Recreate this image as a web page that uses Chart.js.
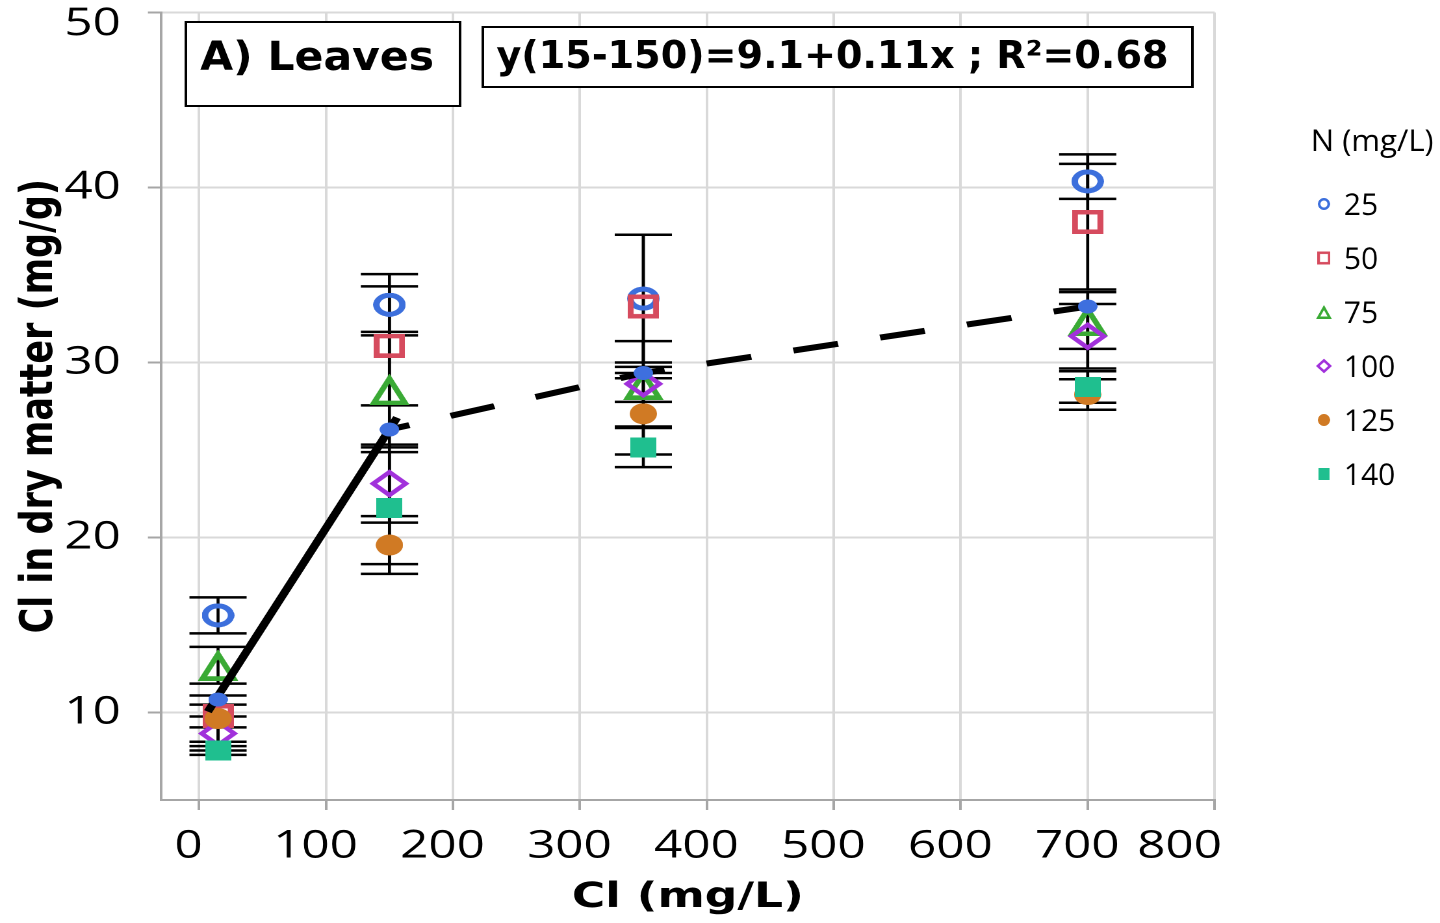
<!DOCTYPE html>
<html>
<head>
<meta charset="utf-8">
<script src="https://cdn.jsdelivr.net/npm/chart.js"></script>
<style>
  html, body { margin: 0; padding: 0; background: #fff; overflow: hidden; }
  #chart { display: block; }
</style>
</head>
<body>
<canvas id="chart" width="1108" height="923" style="width:1440px;height:923px"></canvas>
<script>
// Cl in irrigation water (mg/L)
const clLevels = [15, 150, 350, 700];
// N levels (legend)
const nLevels = ['25', '50', '75', '100', '125', '140'];

// Cl in dry matter (mg/g) per N level, with the half length of each error bar
const cl25 = [15.55, 33.3, 33.65, 40.35];
const err25 = [1.03, 1.75, 3.65, 1.0];
const cl50 = [9.8, 30.95, 33.2, 38.03];
const err50 = [0.65, 3.4, 4.1, 3.86];
const cl75 = [12.7, 28.45, 28.75, 32.4];
const err75 = [1.05, 3.3, 1.0, 1.62];
const cl100 = [8.8, 23.08, 28.78, 31.5];
const err100 = [0.97, 2.23, 2.44, 1.84];
const cl125 = [9.65, 19.57, 27.07, 28.17];
const err125 = [1.32, 1.65, 2.33, 0.87];
const cl140 = [7.83, 21.68, 25.14, 28.6];
const err140 = [0.25, 3.2, 1.12, 0.9];

// mean of the six N levels at each Cl level
const meanCl = [10.74, 26.17, 29.4, 33.2];
// regression line y(15-150), end points as drawn
const fitX = [7, 156];
const fitY = [10.05, 26.85];

const xTickVals = [0, 100, 200, 300, 400, 500, 600, 700, 800];
const yTickVals = [10, 20, 30, 40, 50];

// the picture is stretched sideways, so draw narrow and let css widen it
const STRETCH = 1.3;

const colors = ['#3c6fdc', '#d64b5e', '#3aaa35', '#a131db', '#d07a24', '#1fbf8f'];
const meanColor = '#3e6fde';

function makeMark(kind, w, h, lw, color) {
  const S = 3;
  const c = document.createElement('canvas');
  c.width = w * S;
  c.height = h * S;
  const g = c.getContext('2d');
  g.scale(S, S);
  g.strokeStyle = color;
  g.fillStyle = color;
  g.lineWidth = lw;
  const m = lw / 2;
  g.beginPath();
  if (kind === 'ring') g.ellipse(w / 2, h / 2, w / 2 - m, h / 2 - m, 0, 0, Math.PI * 2);
  else if (kind === 'dot') g.ellipse(w / 2, h / 2, w / 2, h / 2, 0, 0, Math.PI * 2);
  else if (kind === 'box') g.rect(m, m, w - lw, h - lw);
  else if (kind === 'block') g.rect(0, 0, w, h);
  else if (kind === 'tri') {
    g.moveTo(w / 2, lw);
    g.lineTo(w - lw * 0.9, h - m);
    g.lineTo(lw * 0.9, h - m);
    g.closePath();
  } else if (kind === 'dia') {
    const d = lw * 0.75;
    g.moveTo(w / 2, d);
    g.lineTo(w - d, h / 2);
    g.lineTo(w / 2, h - d);
    g.lineTo(d, h / 2);
    g.closePath();
  }
  if (kind === 'dot' || kind === 'block') g.fill(); else g.stroke();
  const img = new Image();
  img.width = w;
  img.height = h;
  const ready = new Promise(res => { img.onload = res; img.onerror = res; });
  img.src = c.toDataURL();
  return { img, ready };
}

// plot markers (sizes in the narrow canvas)
const marks = [
  makeMark('ring', 25, 24, 5, colors[0]),
  makeMark('box', 24, 24, 4.5, colors[1]),
  makeMark('tri', 32, 31, 4.5, colors[2]),
  makeMark('dia', 31, 29, 4, colors[3]),
  makeMark('dot', 21, 21, 0, colors[4]),
  makeMark('block', 20, 20, 0, colors[5])
];
const meanMark = makeMark('dot', 15, 14, 0, meanColor);
// legend markers (sizes as seen, squeezed when drawn)
const legMarks = [
  makeMark('ring', 12, 12, 2.5, colors[0]),
  makeMark('box', 13, 13, 2.5, colors[1]),
  makeMark('tri', 16, 14, 2.5, colors[2]),
  makeMark('dia', 16, 15, 2.5, colors[3]),
  makeMark('dot', 12, 12, 0, colors[4]),
  makeMark('block', 11, 12, 0, colors[5])
];

const seriesVals = [cl25, cl50, cl75, cl100, cl125, cl140];
const seriesErrs = [err25, err50, err75, err100, err125, err140];

const pt = (xs, ys) => xs.map((x, i) => ({ x, y: ys[i] }));

// error bars under the markers
const errorBars = {
  id: 'errorBars',
  beforeDatasetsDraw(chart) {
    const { ctx, scales: { x, y } } = chart;
    ctx.save();
    ctx.strokeStyle = '#000';
    chart.data.datasets.forEach(ds => {
      if (!ds.errors) return;
      ds.data.forEach((p, i) => {
        const px = x.getPixelForValue(p.x);
        const top = y.getPixelForValue(p.y + ds.errors[i]);
        const bot = y.getPixelForValue(p.y - ds.errors[i]);
        ctx.lineWidth = 2.3;
        ctx.beginPath();
        ctx.moveTo(px, top);
        ctx.lineTo(px, bot);
        ctx.stroke();
        ctx.lineWidth = 2.5;
        ctx.beginPath();
        ctx.moveTo(px - 22, top);
        ctx.lineTo(px + 22, top);
        ctx.moveTo(px - 22, bot);
        ctx.lineTo(px + 22, bot);
        ctx.stroke();
      });
    });
    ctx.restore();
  }
};

function fitText(ctx, text, x, y, width, font) {
  ctx.save();
  ctx.font = font;
  ctx.textAlign = 'left';
  ctx.textBaseline = 'alphabetic';
  const k = width / ctx.measureText(text).width;
  ctx.translate(x, y);
  ctx.scale(k, 1);
  ctx.fillText(text, 0, 0);
  ctx.restore();
}

// text boxes, the top y label and the legend
const decor = {
  id: 'decor',
  afterDraw(chart) {
    const ctx = chart.ctx;
    ctx.save();
    ctx.fillStyle = '#fff';
    ctx.strokeStyle = '#000';
    ctx.lineWidth = 2;
    ctx.fillRect(143, 22, 211, 84);
    ctx.strokeRect(143, 22, 211, 84);
    ctx.fillRect(371.5, 27, 546, 60);
    ctx.strokeRect(371.5, 27, 546, 60);
    ctx.fillStyle = '#000';
    fitText(ctx, 'A) Leaves', 154, 70, 180, 'bold 40px "DejaVu Sans"');
    fitText(ctx, 'y(15-150)=9.1+0.11x ; R\u00b2=0.68', 382, 68, 517, 'bold 38px "DejaVu Sans"');

    ctx.font = '38px "Open Sans"';
    ctx.textAlign = 'right';
    ctx.textBaseline = 'alphabetic';
    ctx.fillText(String(yTickVals[yTickVals.length - 1]), 93, 35);

    fitText(ctx, 'N (mg/L)', 1008.5, 151, 94.6, '30px "Open Sans"');
    nLevels.forEach((lab, k) => {
      const cy = 204 + 54 * k;
      const im = legMarks[k].img;
      const w = im.width / STRETCH;
      ctx.drawImage(im, 1018.7 - w / 2, cy - im.height / 2, w, im.height);
      ctx.save();
      ctx.font = '30px "Open Sans"';
      ctx.textAlign = 'left';
      ctx.translate(1034, cy + 11);
      ctx.scale(1 / STRETCH, 1);
      ctx.fillText(lab, 0, 0);
      ctx.restore();
    });
    ctx.restore();
  }
};

Chart.defaults.font.family = '"Open Sans", sans-serif';
Chart.defaults.color = '#000';

const gridOpts = { color: '#d9d9d9', lineWidth: 2, tickColor: '#a6a6a6', tickLength: 10, tickWidth: 2 };
const borderOpts = { color: '#a6a6a6', width: 2 };
const titleFont = { family: '"DejaVu Sans"', weight: 'bold', size: 35 };

Promise.all([...marks, meanMark, ...legMarks].map(m => m.ready)).then(() => {
  const ctx = document.getElementById('chart').getContext('2d');
  new Chart(ctx, {
    type: 'scatter',
    data: {
      datasets: [
        { label: 'mean', data: pt(clLevels, meanCl), pointStyle: meanMark.img, pointRadius: 7, order: 0 },
        {
          label: 'fit', data: pt(fitX, fitY), showLine: true, borderColor: '#000', borderWidth: 6.5,
          pointRadius: 0, fill: false, order: 1
        },
        {
          label: 'trend', data: pt(clLevels.slice(1), meanCl.slice(1)), showLine: true, borderColor: '#000',
          borderWidth: 6, borderDash: [35, 33], borderDashOffset: 19, pointRadius: 0, fill: false, order: 1
        },
        ...seriesVals.map((vals, k) => ({
          label: nLevels[k],
          data: pt(clLevels, vals),
          errors: seriesErrs[k],
          pointStyle: marks[k].img,
          pointRadius: 10,
          order: 7 - k
        }))
      ]
    },
    options: {
      responsive: false,
      devicePixelRatio: 2,
      animation: false,
      events: [],
      layout: { padding: { left: 0, top: 12.5, right: 1108 - 934.6, bottom: 0 } },
      plugins: { legend: { display: false }, tooltip: { enabled: false } },
      scales: {
        x: {
          type: 'linear', min: -30, max: 800,
          afterBuildTicks: s => { s.ticks = xTickVals.map(v => ({ value: v })); },
          afterFit: s => { s.height = 923 - 800; s.paddingLeft = 0; s.paddingRight = 0; },
          grid: gridOpts,
          border: borderOpts,
          ticks: {
            font: { size: 38 }, color: '#000', padding: 14, labelOffset: -8, maxRotation: 0, autoSkip: false,
            // the last label sits a little left so it stays inside the picture
            callback: v => (v === xTickVals[xTickVals.length - 1] ? v + '\u2002\u2002' : v)
          },
          title: { display: true, text: 'Cl (mg/L)', font: titleFont, color: '#000', padding: { top: 0, bottom: 4 } }
        },
        y: {
          type: 'linear', min: 5, max: 50,
          afterBuildTicks: s => { s.ticks = yTickVals.map(v => ({ value: v })); },
          afterFit: s => { s.width = 123.8; s.paddingTop = 0; s.paddingBottom = 0; },
          grid: gridOpts,
          border: borderOpts,
          ticks: { font: { size: 38 }, color: '#000', padding: 20.8, callback: v => (v === 50 ? '' : v) },
          title: { display: true, text: 'Cl in dry matter (mg/g)', font: titleFont, color: '#000', padding: { top: 9.8, bottom: 0 } }
        }
      }
    },
    plugins: [errorBars, decor]
  });
});
</script>
</body>
</html>
